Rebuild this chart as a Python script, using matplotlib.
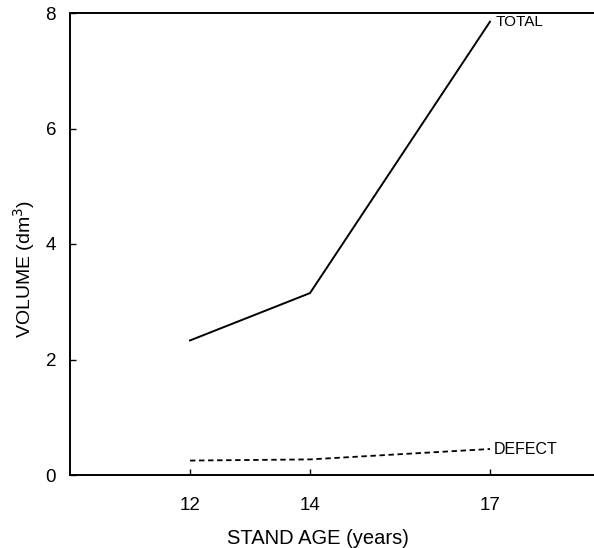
import numpy as np
import matplotlib
matplotlib.use('Agg')
import matplotlib.pyplot as plt

plt.rcParams['font.family'] = ['Liberation Sans', 'DejaVu Sans']

# stand age (years) and volumes (dm3)
age = [12, 14, 17]
total = [2.33, 3.15, 7.85]
defect = [0.25, 0.27, 0.45]

fig = plt.figure(figsize=(5.94, 5.48), dpi=100)
ax = fig.add_axes([70/594, 73/548, 540/594, 462/548])

ax.plot(age, total, color='black', lw=1.4)
ax.plot(age, defect, color='black', lw=1.3, linestyle=(0, (3, 2)))

ax.text(age[-1] + 0.1, total[-1], 'TOTAL', fontsize=11, va='center', ha='left')
ax.text(age[-1] + 0.06, defect[-1] - 0.01, 'DEFECT', fontsize=11.5, va='center', ha='left')

ax.set_xlim(10, 19)
ax.set_ylim(0, 8)
ax.set_xticks(age)
ax.set_yticks([0, 2, 4, 6, 8])
ax.tick_params(direction='in', length=4, width=1, labelsize=13.5)
ax.tick_params(axis='x', pad=16)
ax.tick_params(axis='y', pad=10)
ax.spines['right'].set_visible(False)
for s in ['left', 'bottom', 'top']:
    ax.spines[s].set_linewidth(1.4)

ax.set_xlabel('STAND AGE (years)', fontsize=14.5)
ax.set_ylabel('VOLUME (dm$^3$)', fontsize=14)
ax.xaxis.set_label_coords(0.459, -0.117)
ax.yaxis.set_label_coords(-0.062, 0.446)

fig.savefig('out.png', dpi=100)
